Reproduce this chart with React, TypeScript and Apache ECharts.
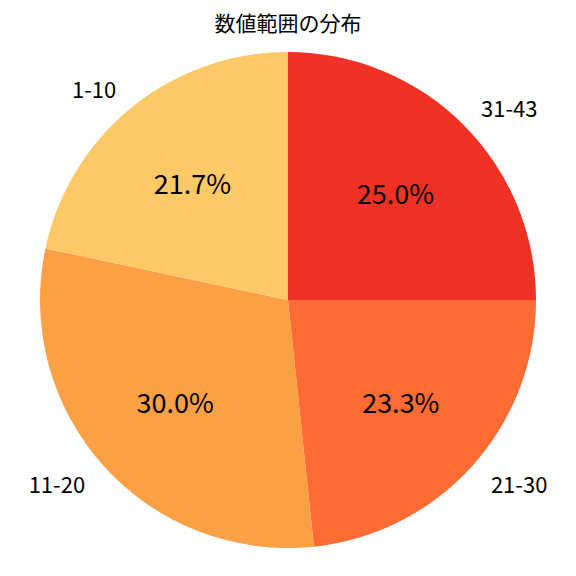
import * as echarts from 'echarts';
import { useEffect, useRef } from 'react';

// 範囲ごとの件数（12時から時計回り）
const categories = ['31-43', '21-30', '11-20', '1-10'];
const counts = [15, 14, 18, 13];
const colors = ['#EE3124', '#FE6B33', '#FCA045', '#FDC866'];

const FONT = '"Noto Sans CJK JP", "Noto Sans", sans-serif';
const R = 248;

const App = () => {
  const chartRef = useRef<HTMLDivElement>(null);

  useEffect(() => {
    if (!chartRef.current) return;
    document.body.style.margin = '0';
    const chart = echarts.init(chartRef.current, undefined, { renderer: 'svg' });
    const data = categories.map((name, i) => ({
      name,
      value: counts[i],
      itemStyle: { color: colors[i] },
    }));
    const total = counts.reduce((a, b) => a + b, 0);

    chart.setOption({
      animation: false,
      backgroundColor: '#ffffff',
      title: {
        text: '数値範囲の分布',
        left: 'center',
        top: 6,
        textStyle: { fontFamily: FONT, fontSize: 21, fontWeight: 'normal', color: '#000' },
      },
      series: [
        {
          type: 'pie',
          center: [288, 300],
          radius: R,
          startAngle: 90,
          clockwise: true,
          avoidLabelOverlap: false,
          silent: true,
          data,
          label: {
            show: true,
            position: 'outside',
            formatter: '{b}',
            fontFamily: FONT,
            fontSize: 22,
            color: '#000',
          },
          // 半径 1.1R の位置にラベルの端を合わせる
          labelLine: { show: false, length: 25, length2: -5 },
        },
        {
          // 百分率ラベル用（0.6R の位置に置くための透明な円）
          type: 'pie',
          center: [288, 300],
          radius: R * 1.2,
          startAngle: 90,
          clockwise: true,
          silent: true,
          data: data.map((d) => ({ ...d, itemStyle: { color: 'rgba(0,0,0,0)' } })),
          label: {
            show: true,
            position: 'inside',
            formatter: (p: any) => ((p.value / total) * 100).toFixed(1) + '%',
            fontFamily: FONT,
            fontSize: 27,
            color: '#000',
          },
          labelLine: { show: false },
        },
      ],
    });

    return () => chart.dispose();
  }, []);

  return <div ref={chartRef} style={{ width: 576, height: 576 }}></div>;
};

export default App;
